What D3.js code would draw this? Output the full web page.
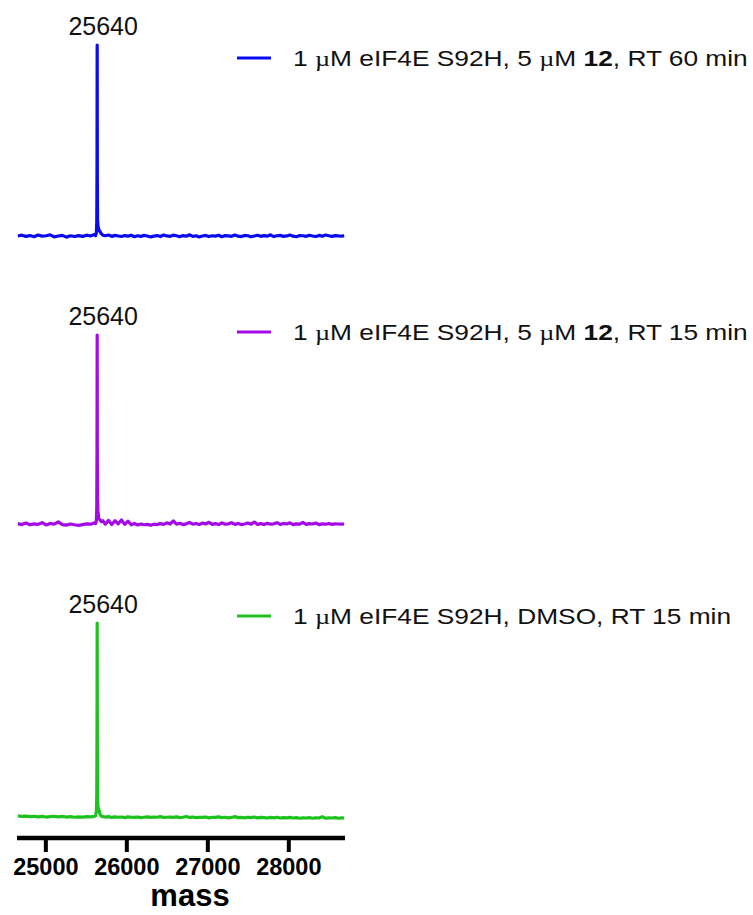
<!DOCTYPE html>
<html>
<head>
<meta charset="utf-8">
<script src="https://cdn.jsdelivr.net/npm/d3@7"></script>
<style>
  html, body { margin: 0; padding: 0; background: #fff; }
  svg { display: block; }
</style>
</head>
<body>
<svg id="chart" width="753" height="915"></svg>
<script>
// ---------- DATA ----------
const masses = [24660,24710,24760,24810,24860,24910,24960,25010,25060,25110,25160,25210,25260,25310,25360,25410,25460,25510,25560,
  25600,25620,25630,25635,25638,25640,25642,25645,25650,25660,25675,25690,25710,
  25740,25780,25820,25860,25900,25940,25980,26020,26060,26100,26140,26180,26220,26260,26300,26340,26380,26420,26460,26500,
  26540,26580,26620,26660,26700,26740,26780,26820,26860,26900,26940,26980,27020,27060,27100,27140,27180,27220,27260,27300,
  27340,27380,27420,27460,27500,27540,27580,27620,27660,27700,27740,27780,27820,27860,27900,27940,27980,28020,28060,28100,
  28140,28180,28220,28260,28300,28340,28380,28420,28460,28500,28540,28580,28620,28660,28690];

const series60 = [0.8,1.2,0.6,1.0,0.4,1.3,0.7,0.9,1.4,0.3,0.8,1.1,0.2,0.9,0.5,1.0,0.6,1.2,0.8,
  1.5,1.0,2.5,8,35,100,30,9,6,4,3,2,1.2,
  0.9,1.3,0.6,1.1,0.8,0.5,1.0,0.7,1.2,0.4,
  0.9,0.6,1.1,0.8,0.3,0.7,1.0,0.5,1.3,0.8,
  0.6,1.2,0.9,0.4,1.0,0.7,1.4,0.6,0.9,0.3,
  0.8,1.1,0.5,0.9,0.7,1.2,0.4,1.0,0.8,0.6,
  1.3,0.7,0.5,1.1,0.9,0.4,0.8,1.2,0.6,1.0,
  0.7,1.4,0.5,0.9,1.1,0.6,0.8,1.3,0.7,0.4,
  1.0,0.9,0.6,1.2,0.8,0.5,1.1,0.7,1.3,0.9,
  0.6,1.0,0.8,0.7,
  0.9];

const series15 = [1.5,1.0,1.8,0.9,1.4,1.1,2.0,0.8,1.6,1.2,2.4,1.0,0.7,1.3,0.9,0.6,1.0,1.4,1.2,
  1.8,1.5,3,10,40,100,35,14,8,4,3.5,2.5,3,
  1.2,3.2,1.0,3.0,1.4,3.4,1.1,2.8,0.9,1.6,
  0.8,1.3,0.9,1.1,0.7,1.2,1.0,1.5,1.1,1.9,
  1.3,2.9,1.2,1.7,1.0,1.4,2.1,1.2,1.6,1.0,
  1.8,1.3,2.2,1.1,1.5,1.0,1.9,1.2,1.4,2.0,
  1.1,1.6,1.0,1.3,1.8,1.2,2.3,1.1,1.5,1.0,
  1.7,1.2,1.4,2.0,1.1,1.6,1.3,1.9,1.0,1.4,
  1.2,2.1,1.1,1.5,1.3,1.8,1.0,1.4,1.2,1.6,
  1.1,1.4,1.3,1.2,
  1.3];

const seriesDMSO = [1.6,1.3,1.5,1.2,1.4,1.1,1.3,1.0,1.2,1.4,1.1,1.3,1.0,1.2,0.9,1.1,1.0,1.2,1.1,
  1.3,1.6,4,12,45,100,40,10,6,5,2.5,1.5,1.2,
  1.0,1.2,0.8,1.1,0.9,1.0,0.7,1.1,0.9,0.8,
  1.0,0.7,0.9,1.1,0.8,1.0,0.9,1.2,0.8,0.9,
  1.0,0.8,1.1,0.7,0.9,1.3,0.8,1.0,0.7,0.9,
  0.8,1.0,0.6,0.9,0.8,1.1,0.7,0.9,0.6,0.8,
  1.2,0.7,0.8,0.6,0.9,0.7,1.0,0.6,0.8,0.7,
  0.5,0.8,0.6,0.9,0.5,0.7,0.6,0.8,0.5,0.7,
  0.4,0.6,0.5,0.7,0.4,0.6,0.5,1.1,0.4,0.6,
  0.5,0.7,0.4,0.6,
  0.5];

const seriesNames = ["60 min", "15 min", "DMSO"];
const seriesColors = ["#0b0bf2", "#a30ae6", "#1ec21e"];
const peakLabels = ["25640", "25640", "25640"];
const peakMass = 25640;
const xTicks = [25000, 26000, 27000, 28000];
const xLabel = "mass";

// legend texts as segments [text, style]
const legendParts = [
  [["1 ", "n"], ["\u00b5", "mu"], ["M eIF4E S92H, 5 ", "n"], ["\u00b5", "mu"], ["M ", "n"], ["12", "b"], [", RT 60 min", "n"]],
  [["1 ", "n"], ["\u00b5", "mu"], ["M eIF4E S92H, 5 ", "n"], ["\u00b5", "mu"], ["M ", "n"], ["12", "b"], [", RT 15 min", "n"]],
  [["1 ", "n"], ["\u00b5", "mu"], ["M eIF4E S92H, DMSO, RT 15 min", "n"]]
];

const allSeries = [series60, series15, seriesDMSO];

// ---------- LAYOUT ----------
const svg = d3.select("#chart");
const font = "'Liberation Sans', Arial, sans-serif";

const x = d3.scaleLinear().domain([24650, 28700]).range([17, 345]);

const panels = [
  { base: 237.5, top: 45, legendY: 58 },
  { base: 526.5, top: 335, legendY: 332 },
  { base: 819, top: 623, legendY: 616 }
];

const legendTexts = [];
panels.forEach((p, i) => {
  const y = d3.scaleLinear().domain([0, 100]).range([p.base, p.top]);
  const data = masses.map((m, j) => [m, allSeries[i][j]]);
  const line = d3.line().x(d => x(d[0])).y(d => y(d[1]));
  svg.append("path")
    .datum(data)
    .attr("d", line)
    .attr("fill", "none")
    .attr("stroke", seriesColors[i])
    .attr("stroke-width", 3.2)
    .attr("stroke-linejoin", "round");

  // peak label
  svg.append("text")
    .attr("x", x(peakMass) + 6)
    .attr("y", y(100) - 10)
    .attr("text-anchor", "middle")
    .attr("font-family", font)
    .attr("font-size", 25)
    .attr("fill", "#111")
    .text(peakLabels[i]);

  // legend
  svg.append("line")
    .attr("x1", 237).attr("x2", 271)
    .attr("y1", p.legendY).attr("y2", p.legendY)
    .attr("stroke", seriesColors[i])
    .attr("stroke-width", 3);
  const t = svg.append("text")
    .attr("x", 0)
    .attr("y", 0)
    .attr("font-family", font)
    .attr("font-size", 21.5)
    .attr("fill", "#111");
  legendParts[i].forEach(([s, st]) => {
    const ts = t.append("tspan").text(s);
    if (st === "b") ts.attr("font-weight", "bold");
    if (st === "mu") ts.attr("font-family", "'Liberation Serif', 'Times New Roman', serif");
  });
  legendTexts.push({ t, p });
});

// stretch legends horizontally to match reference width
const w0 = legendTexts[0].t.node().getBBox().width;
const sx = 455 / w0;
legendTexts.forEach(({ t, p }) => {
  t.attr("transform", `translate(293,${p.legendY + 8}) scale(${sx},1)`);
});

// ---------- X AXIS ----------
const axisY = 838;
const axis = d3.axisBottom(x).tickValues(xTicks).tickSize(14).tickPadding(6).tickFormat(d3.format("d"));
const gAxis = svg.append("g").attr("transform", `translate(0,${axisY})`).call(axis);
gAxis.select(".domain").remove();
gAxis.append("line")
  .attr("x1", 17).attr("x2", 345).attr("y1", 0).attr("y2", 0)
  .attr("stroke", "#000").attr("stroke-width", 4.5);
gAxis.selectAll(".tick line").attr("stroke", "#000").attr("stroke-width", 4);
gAxis.selectAll(".tick text")
  .attr("font-family", font)
  .attr("font-size", 23.5)
  .attr("font-weight", "bold")
  .attr("fill", "#000");

svg.append("text")
  .attr("x", 190)
  .attr("y", 906)
  .attr("text-anchor", "middle")
  .attr("font-family", font)
  .attr("font-size", 31)
  .attr("font-weight", "bold")
  .attr("fill", "#000")
  .text(xLabel);
</script>
</body>
</html>
